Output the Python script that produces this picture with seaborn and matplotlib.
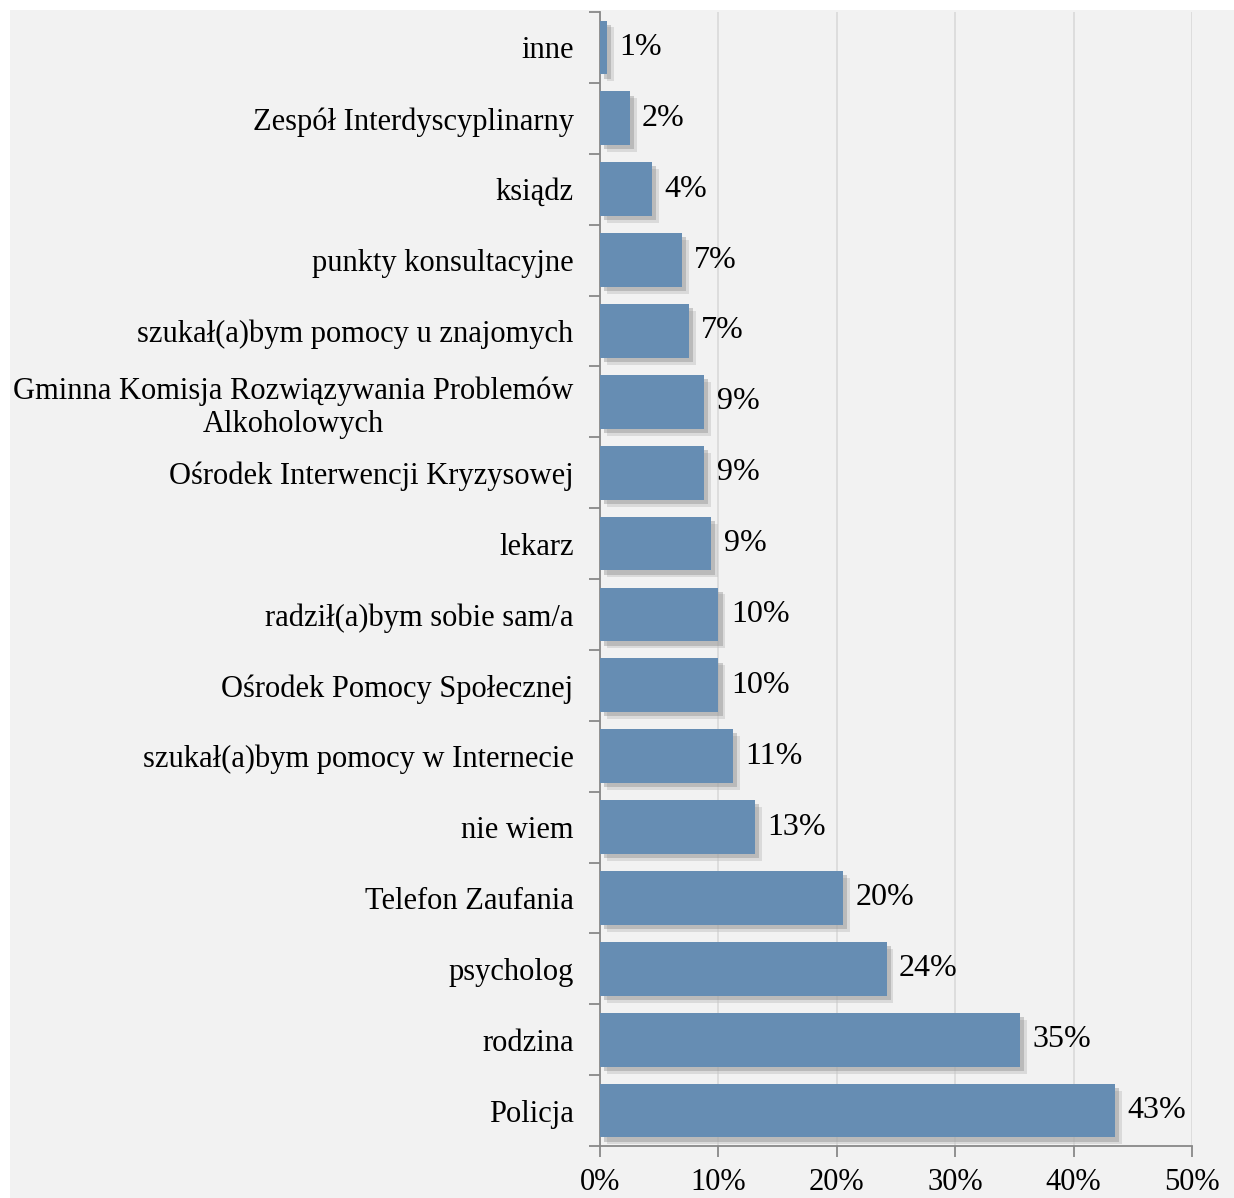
import matplotlib
matplotlib.use("Agg")
import matplotlib.pyplot as plt
import matplotlib.patheffects as pe
from matplotlib.patches import Rectangle
from matplotlib.ticker import FixedLocator, PercentFormatter
import seaborn as sns
import pandas as pd

# data (top to bottom)
categories = [
    "inne",
    "Zespół Interdyscyplinarny",
    "ksiądz",
    "punkty konsultacyjne",
    "szukał(a)bym pomocy u znajomych",
    "Gminna Komisja Rozwiązywania Problemów\nAlkoholowych",
    "Ośrodek Interwencji Kryzysowej",
    "lekarz",
    "radził(a)bym sobie sam/a",
    "Ośrodek Pomocy Społecznej",
    "szukał(a)bym pomocy w Internecie",
    "nie wiem",
    "Telefon Zaufania",
    "psycholog",
    "rodzina",
    "Policja",
]
values = [0.6, 2.5, 4.4, 6.9, 7.5, 8.8, 8.8, 9.4, 10.0, 10.0, 11.2, 13.1, 20.5, 24.2, 35.5, 43.5]
labels = ["1%", "2%", "4%", "7%", "7%", "9%", "9%", "9%", "10%", "10%", "11%", "13%", "20%", "24%", "35%", "43%"]
x_ticks = [0, 10, 20, 30, 40, 50]

df = pd.DataFrame({"kategoria": categories, "procent": values})

bg = "#F2F2F2"
bar_color = "#668DB3"

sns.set_theme(style="white")
plt.rcParams["font.family"] = ["Liberation Serif", "DejaVu Serif"]

fig = plt.figure(figsize=(12.34, 11.98), dpi=100, facecolor="white")
fig.patches.append(Rectangle((10 / 1234, 0), 1 - 10 / 1234, 1 - 10 / 1198,
                             transform=fig.transFigure, facecolor=bg,
                             edgecolor="none", zorder=-10))
ax = fig.add_axes([600 / 1234, 1 - 1146 / 1198, 592 / 1234, 1134 / 1198])
ax.set_facecolor(bg)

sns.barplot(data=df, x="procent", y="kategoria", orient="h", color=bar_color,
            saturation=1, width=0.76, linewidth=0, ax=ax, zorder=3)

# soft drop shadow like the office chart
for bar in ax.patches:
    bar.set_path_effects([
        pe.SimplePatchShadow(offset=(5, -5), shadow_rgbFace="#C4C4C4", alpha=0.5),
        pe.SimplePatchShadow(offset=(3, -3), shadow_rgbFace="#8C8C8C", alpha=0.4),
        pe.Normal(),
    ])

ax.bar_label(ax.containers[0], labels=labels, padding=9, fontsize=23, color="black")

ax.set_xlim(0, 50)
ax.set_ylim(len(categories) - 0.5, -0.5)
ax.xaxis.set_major_locator(FixedLocator(x_ticks))
ax.xaxis.set_major_formatter(PercentFormatter(decimals=0))
ax.grid(axis="x", color="#D9D9D9", linewidth=1.2, zorder=0)
ax.set_axisbelow(True)

ax.set_xlabel("")
ax.set_ylabel("")

# y ticks at category boundaries
ax.yaxis.set_minor_locator(FixedLocator([i - 0.5 for i in range(len(categories) + 1)]))
ax.tick_params(axis="y", which="major", length=0, pad=19, labelsize=22, labelcolor="black")
ax.tick_params(axis="y", which="minor", left=True, length=8, width=1.3, color="#888888", direction="out")
ax.tick_params(axis="x", which="major", bottom=True, length=8, width=1.3, color="#888888",
               direction="out", labelsize=22, labelcolor="black", pad=8)
for lab in ax.get_yticklabels():
    lab.set_multialignment("center")

for side in ["top", "right"]:
    ax.spines[side].set_visible(False)
for side in ["left", "bottom"]:
    ax.spines[side].set_color("#888888")
    ax.spines[side].set_linewidth(1.3)

fig.savefig("out.png", dpi=100, facecolor="white")
